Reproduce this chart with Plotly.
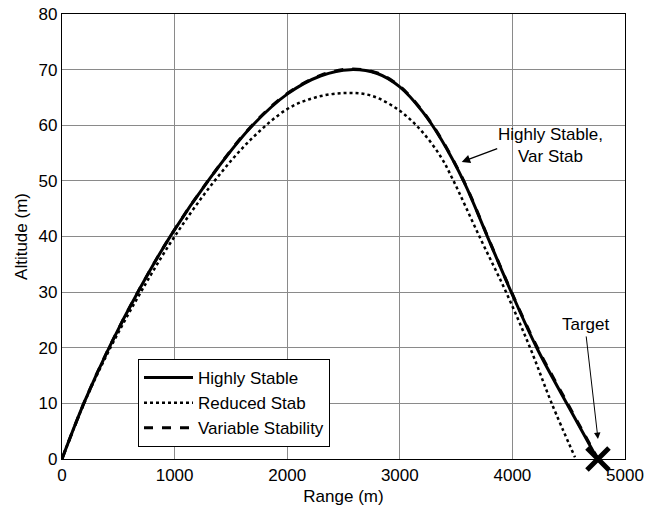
import plotly.graph_objects as go

# Data
hs_x = [0, 200, 425, 690, 970, 1315, 1675, 2000, 2300, 2560, 2800, 3000, 3200, 3370, 3575, 3780,
        3990, 4216, 4488, 4755]
hs_y = [0, 10.3, 20.3, 30.6, 40.3, 50.5, 59.6, 65.6, 68.9, 70, 69.3, 66.9, 62.5, 57.4, 49.6, 39.9,
        30, 20, 9.8, 0]

rs_x = [0, 200, 430, 700, 1000, 1355, 1675, 2000, 2250, 2520, 2750, 3000, 3200, 3365, 3470, 3707,
        3944, 4157, 4349, 4556]
rs_y = [0, 10.2, 20, 30, 40, 50, 57.4, 62.9, 65, 65.8, 65.3, 62.6, 58.8, 54.3, 50.3, 40,
        30, 20, 10, 0.3]

vs_x = [0, 200, 425, 690, 970, 1315, 1675, 2000, 2300, 2560, 2800, 3000, 3200, 3370, 3575, 3780,
        3990, 4220, 4492, 4760]
vs_y = [0, 10.3, 20.3, 30.6, 40.3, 50.5, 59.7, 65.7, 69.0, 70.1, 69.4, 67.0, 62.6, 57.5, 49.7, 40.0,
        30.1, 20.1, 9.9, 0]

target_x = [4760]
target_y = [0]

x_ticks = [0, 1000, 2000, 3000, 4000, 5000]
y_ticks = [0, 10, 20, 30, 40, 50, 60, 70, 80]

FONT = "Liberation Sans, Arial, sans-serif"

fig = go.Figure()
fig.add_trace(go.Scatter(x=hs_x, y=hs_y, mode="lines", name="Highly Stable",
                         line=dict(color="black", width=3, shape="spline", smoothing=1.0)))
fig.add_trace(go.Scatter(x=rs_x, y=rs_y, mode="lines", name="Reduced Stab",
                         line=dict(color="black", width=2.5, dash="dot", shape="spline", smoothing=1.0)))
fig.add_trace(go.Scatter(x=vs_x, y=vs_y, mode="lines", name="Variable Stability",
                         line=dict(color="black", width=3, dash="dash", shape="spline", smoothing=1.0)))
fig.add_trace(go.Scatter(x=target_x, y=target_y, mode="markers", showlegend=False,
                         marker=dict(symbol="x-thin", size=22, line=dict(color="black", width=5)),
                         cliponaxis=False))

fig.add_annotation(x=3550, y=53.4, ax=37, ay=-14, axref="pixel", ayref="pixel",
                   xref="x", yref="y", text="", showarrow=True, arrowhead=2,
                   arrowsize=1.3, arrowwidth=1.3, arrowcolor="black")
fig.add_annotation(x=4334, y=56.3, xref="x", yref="y", text="Highly Stable,<br>Var Stab",
                   showarrow=False, font=dict(family=FONT, size=17, color="black"),
                   align="center")
fig.add_annotation(x=4760, y=3.6, xref="x", yref="y", text="", showarrow=True,
                   axref="x", ayref="y", ax=4654, ay=22.3, arrowhead=2, arrowsize=1.3,
                   arrowwidth=1, arrowcolor="black")
fig.add_annotation(x=4654, y=24.2, xref="x", yref="y", text="Target", showarrow=False,
                   font=dict(family=FONT, size=17, color="black"))

axis_common = dict(showgrid=True, gridcolor="#8a8a8a", gridwidth=1,
                   showline=True, linecolor="black", linewidth=1.2, mirror=True,
                   zeroline=False, ticks="", automargin=False,
                   tickfont=dict(family=FONT, size=17, color="black"))

fig.update_xaxes(range=[0, 5000], tickvals=x_ticks, **axis_common,
                 title=dict(text="Range (m)", font=dict(family=FONT, size=17, color="black"),
                            standoff=6))
fig.update_yaxes(range=[0, 80], tickvals=y_ticks, **axis_common,
                 title=dict(text="Altitude (m)", font=dict(family=FONT, size=17, color="black"),
                            standoff=6))

fig.update_layout(
    width=645, height=507,
    margin=dict(l=62, r=20, t=14, b=48),
    paper_bgcolor="white", plot_bgcolor="white",
    font=dict(family=FONT, size=17, color="black"),
    legend=dict(x=0.135, y=0.027, xanchor="left", yanchor="bottom",
                bgcolor="white", bordercolor="black", borderwidth=1,
                font=dict(family=FONT, size=17, color="black"),
                tracegroupgap=0, itemwidth=49),
    showlegend=True,
)

fig.write_html("out.html")
